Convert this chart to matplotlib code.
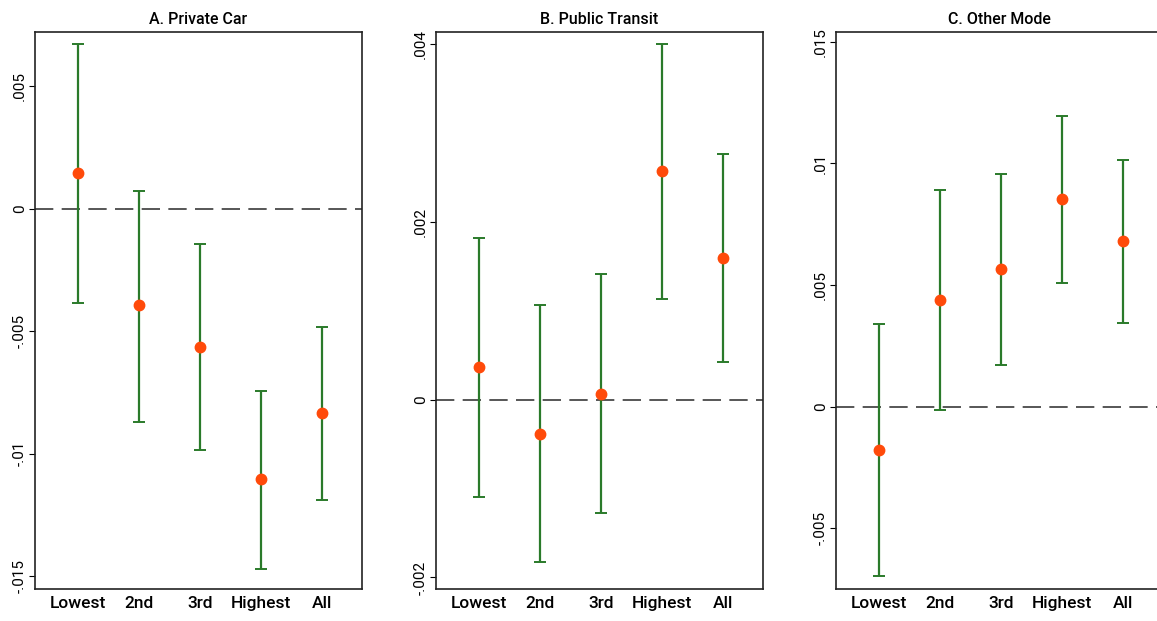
import matplotlib
matplotlib.use("Agg")
import matplotlib.pyplot as plt
import numpy as np

categories = ["Lowest", "2nd", "3rd", "Highest", "All"]

titles = ["A. Private Car", "B. Public Transit", "C. Other Mode"]

car_est = [0.00146, -0.00393, -0.00567, -0.01105, -0.00834]
car_hi = [0.00672, 0.00073, -0.00146, -0.00745, -0.00482]
car_lo = [-0.00385, -0.0087, -0.00984, -0.0147, -0.0119]

transit_est = [0.00037, -0.00038, 0.00007, 0.00257, 0.0016]
transit_hi = [0.00182, 0.00107, 0.00142, 0.00401, 0.00277]
transit_lo = [-0.00109, -0.00183, -0.00128, 0.00113, 0.00043]

other_est = [-0.00176, 0.00439, 0.00566, 0.00852, 0.0068]
other_hi = [0.0034, 0.00889, 0.00955, 0.01193, 0.01016]
other_lo = [-0.00697, -0.00012, 0.00172, 0.00508, 0.00344]

yticks = [[0.005, 0, -0.005, -0.01, -0.015],
          [0.004, 0.002, 0, -0.002],
          [0.015, 0.01, 0.005, 0, -0.005]]
yticklabels = [[".005", "0", "-.005", "-.01", "-.015"],
               [".004", ".002", "0", "-.002"],
               [".015", ".01", ".005", "0", "-.005"]]
ylims = [(-0.01553, 0.00721), (-0.00213, 0.00414), (-0.00749, 0.0154)]

series = [(car_est, car_lo, car_hi), (transit_est, transit_lo, transit_hi),
          (other_est, other_lo, other_hi)]

plt.rcParams['font.family'] = ['Roboto', 'DejaVu Sans']

W, H = 1157, 621
fig = plt.figure(figsize=(W / 100, H / 100), dpi=100)
lefts = [35, 436, 836]
top, bottom = 32, 589
width = 327

green = "#2a7a2a"
orange = "#ff4a0a"

xpos = np.arange(1, 6)
for i in range(3):
    ax = fig.add_axes([lefts[i] / W, (H - bottom) / H, width / W, (bottom - top) / H])
    est, lo, hi = series[i]
    est = np.array(est); lo = np.array(lo); hi = np.array(hi)
    ax.axhline(0, color="#3a3a3a", lw=1.2, dashes=(11, 5), zorder=1)
    ax.errorbar(xpos, est, yerr=[est - lo, hi - est], fmt='none', ecolor=green,
                elinewidth=1.6, capsize=4, capthick=1.4, zorder=2)
    ax.plot(xpos, est, 'o', color=orange, markersize=7.5, zorder=3)
    ax.set_xlim(0.29, 5.66)
    ax.set_ylim(*ylims[i])
    ax.set_xticks(xpos)
    ax.set_xticklabels(categories, fontsize=12.5, fontweight='medium')
    ax.set_yticks(yticks[i])
    ax.set_yticklabels(yticklabels[i], rotation=90, va='center', fontsize=11)
    ax.tick_params(axis='x', length=0, pad=5)
    ax.tick_params(axis='y', length=4, width=0.8, pad=2)
    for s in ax.spines.values():
        s.set_linewidth(1.2)
        s.set_color("#222222")
    ax.set_title(titles[i], fontsize=11.5, fontweight='medium', pad=6)

fig.savefig("out.png", dpi=100)
